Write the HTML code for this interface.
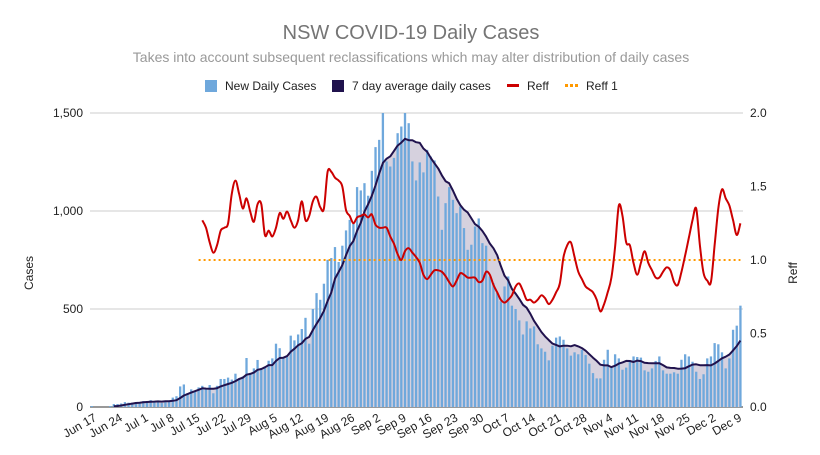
<!DOCTYPE html>
<html><head><meta charset="utf-8"><style>
body{margin:0;background:#fff;font-family:"Liberation Sans",Arial,sans-serif}
svg text{font-family:"Liberation Sans",Arial,sans-serif}
</style></head><body>
<svg id="chart" width="820" height="450" xmlns="http://www.w3.org/2000/svg">
<rect width="820" height="450" fill="#fff"/>
<text x="411" y="39" text-anchor="middle" font-size="20" fill="#757575">NSW COVID-19 Daily Cases</text>
<text x="411" y="62" text-anchor="middle" font-size="14" fill="#999">Takes into account subsequent reclassifications which may alter distribution of daily cases</text>
<g font-size="12" fill="#222">
<g><rect x="205" y="80" width="12" height="12" fill="#6fa8dc"/><text x="225" y="90">New Daily Cases</text></g>
<g><rect x="332" y="80" width="12" height="12" fill="#20124d"/><text x="352" y="90">7 day average daily cases</text></g>
<g><rect x="507" y="84" width="12" height="3" fill="#cc0000"/><text x="527" y="90">Reff</text></g>
<g><rect x="565" y="84" width="3" height="3" fill="#ff9900"/><rect x="570" y="84" width="3" height="3" fill="#ff9900"/><rect x="575" y="84" width="3" height="3" fill="#ff9900"/><text x="586" y="90">Reff 1</text></g>
</g>
<text transform="translate(33,273) rotate(-90)" text-anchor="middle" font-size="12" fill="#222">Cases</text>
<text transform="translate(797,273) rotate(-90)" text-anchor="middle" font-size="12" fill="#222">Reff</text>
<g id="grid"></g><g id="area"></g><g id="bars"></g><g id="lines"></g><g id="axes"></g>
</svg>
<script>
const casesStartDay = 0;
const cases = [5,0,0,0,0,5,15,15,18,25,22,22,25,25,30,30,35,27,27,20,33,33,48,55,105,115,70,90,80,100,
108,95,112,70,108,143,143,150,140,170,146,156,250,170,197,240,197,207,236,248,323,300,250,255,364,340,370,398,455,323,
500,581,547,629,751,760,816,740,823,901,955,935,1122,1105,1142,1078,1205,1326,1363,1500,1253,1227,1271,1397,1431,1500,1448,1253,1156,1248,
1197,1312,1278,1258,1074,904,1040,1122,1057,989,1023,913,802,828,921,962,836,823,666,632,581,540,615,666,517,500,442,370,437,401,
411,320,299,282,238,313,354,360,343,299,262,279,269,292,265,221,173,146,146,241,292,207,269,248,190,201,235,258,255,252,
187,180,197,235,258,187,170,170,177,170,241,269,258,231,180,143,167,248,258,326,320,279,197,248,394,415,517];
const reffStartDay = 30;
const reff = [1.27,1.22,1.12,1.05,1.10,1.20,1.22,1.25,1.45,1.54,1.45,1.35,1.42,1.33,1.26,1.38,1.38,1.17,1.20,1.16,
1.22,1.32,1.28,1.33,1.27,1.22,1.27,1.40,1.27,1.30,1.40,1.43,1.36,1.35,1.60,1.60,1.56,1.54,1.50,1.34,
1.30,1.25,1.29,1.30,1.31,1.29,1.31,1.24,1.22,1.22,1.22,1.16,1.11,1.04,1.00,1.06,1.08,1.05,1.02,0.98,
0.90,0.87,0.90,0.93,0.93,0.92,0.89,0.85,0.82,0.86,0.91,0.90,0.88,0.88,0.88,0.85,0.86,0.92,0.90,0.83,
0.78,0.73,0.71,0.73,0.76,0.82,0.84,0.79,0.73,0.73,0.71,0.73,0.76,0.74,0.70,0.73,0.78,0.84,1.02,1.10,
1.12,1.02,0.92,0.87,0.82,0.80,0.78,0.73,0.65,0.70,0.78,0.88,1.09,1.37,1.30,1.12,1.10,0.98,0.90,0.98,
1.06,0.98,0.93,0.88,0.88,0.92,0.95,0.93,0.85,0.83,0.92,1.03,1.15,1.27,1.35,1.10,0.91,0.86,0.85,1.10,
1.35,1.48,1.42,1.37,1.27,1.17,1.25];
const reffOneStartDay = 29;
const reffOneValue = 1;
const leftTicks = [0,500,1000,1500];
const leftTickLabels = ["0","500","1,000","1,500"];
const rightTicks = [0,0.5,1,1.5,2];
const rightTickLabels = ["0.0","0.5","1.0","1.5","2.0"];
const xTickDays = [1,8,15,22,29,36,43,50,57,64,71,78,85,92,99,106,113,120,127,134,141,148,155,162,169,176];
const xTickLabels = ["Jun 17","Jun 24","Jul 1","Jul 8","Jul 15","Jul 22","Jul 29","Aug 5","Aug 12","Aug 19","Aug 26","Sep 2","Sep 9","Sep 16","Sep 23","Sep 30","Oct 7","Oct 14","Oct 21","Oct 28","Nov 4","Nov 11","Nov 18","Nov 25","Dec 2","Dec 9"];

const NS="http://www.w3.org/2000/svg";
const PL=90, PR=743, PT=113, PB=407;
const X0=91.7, DX=3.686;
const x = d => X0 + d*DX;
const yL = v => PB - (v/1500)*(PB-PT);
const yR = v => PB - (v/2)*(PB-PT);
function mk(tag, attrs, parent){const e=document.createElementNS(NS,tag);for(const k in attrs)e.setAttribute(k,attrs[k]);parent.appendChild(e);return e;}
const g = id => document.getElementById(id);

leftTicks.forEach((t,i)=>{
  const ln = mk('line',{x1:PL,x2:PR,y1:yL(t),y2:yL(t),stroke:i===0?'#333':'#ccc','stroke-width':1},g('grid'));
  
  
  const tx = mk('text',{x:83,y:yL(t)+4,'text-anchor':'end','font-size':12,fill:'#222'},g('axes'));
  tx.textContent = leftTickLabels[i];
  
  
});
rightTicks.forEach((t,i)=>{
  if(t===0.5||t===1.5||t===2||t===1||t===0){}
  const tx = mk('text',{x:750,y:yR(t)+4,'text-anchor':'start','font-size':12,fill:'#222'},g('axes'));
  tx.textContent = rightTickLabels[i];
  
  
});
xTickDays.forEach((d,i)=>{
  const tx = mk('text',{transform:`translate(${x(d)+2},${PB+13}) rotate(-30)`,'text-anchor':'end','font-size':12,fill:'#222'},g('axes'));
  tx.textContent = xTickLabels[i];
  
  
});

// bars
cases.forEach((v,i)=>{
  const d = casesStartDay+i;
  if(v<=0) return;
  const r = mk('rect',{x:x(d)-1.15,y:yL(v),width:2.3,height:PB-yL(v),fill:'#6fa8dc'},g('bars'));
  
  
});

// 7-day average
const avgPts=[];
for(let i=6;i<cases.length;i++){
  let s=0;for(let k=i-6;k<=i;k++)s+=cases[k];
  avgPts.push([x(casesStartDay+i), yL(s/7)]);
}
const areaD = 'M'+avgPts[0][0]+','+PB+' '+avgPts.map(p=>'L'+p[0].toFixed(1)+','+p[1].toFixed(1)).join(' ')+' L'+avgPts[avgPts.length-1][0]+','+PB+' Z';
const area = mk('path',{d:areaD,fill:'#d6d1de'},g('area'));


const avgLine = mk('path',{d:'M'+avgPts.map(p=>p[0].toFixed(1)+','+p[1].toFixed(1)).join(' L'),fill:'none',stroke:'#20124d','stroke-width':2,'stroke-linejoin':'round'},g('lines'));



// Reff 1
const r1 = mk('line',{x1:x(reffOneStartDay),x2:x(casesStartDay+cases.length-1),y1:yR(reffOneValue),y2:yR(reffOneValue),stroke:'#ff9900','stroke-width':2,'stroke-dasharray':'2,3'},g('lines'));



// Reff smooth
const rp = reff.map((v,i)=>[x(reffStartDay+i), yR(v)]);
let d='M'+rp[0][0].toFixed(1)+','+rp[0][1].toFixed(1);
for(let i=0;i<rp.length-1;i++){
  const p0=rp[Math.max(0,i-1)],p1=rp[i],p2=rp[i+1],p3=rp[Math.min(rp.length-1,i+2)];
  const c1=[p1[0]+(p2[0]-p0[0])/6,p1[1]+(p2[1]-p0[1])/6];
  const c2=[p2[0]-(p3[0]-p1[0])/6,p2[1]-(p3[1]-p1[1])/6];
  d+=` C${c1[0].toFixed(1)},${c1[1].toFixed(1)} ${c2[0].toFixed(1)},${c2[1].toFixed(1)} ${p2[0].toFixed(1)},${p2[1].toFixed(1)}`;
}
const rl = mk('path',{d:d,fill:'none',stroke:'#cc0000','stroke-width':2,'stroke-linejoin':'round'},g('lines'));


</script>
</body></html>
